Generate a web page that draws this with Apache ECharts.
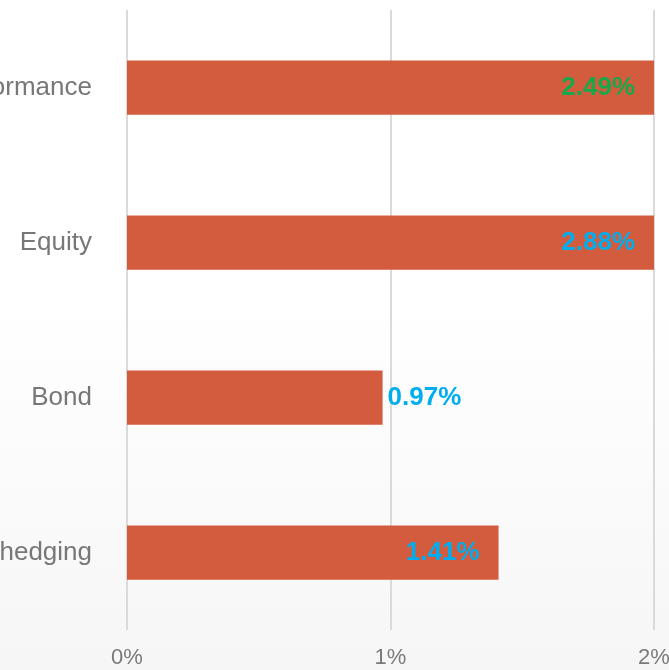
<!DOCTYPE html>
<html>
<head>
<meta charset="utf-8">
<script src="https://cdn.jsdelivr.net/npm/echarts@6/dist/echarts.min.js"></script>
<style>
  html, body { margin: 0; padding: 0; overflow: hidden; background: #ffffff; }
  #chart { width: 669px; height: 670px; }
</style>
</head>
<body>
<div id="chart"></div>
<script>
// Return contribution by component, in percent
const categories = ['Performance', 'Equity', 'Bond', 'Currency hedging'];
const values = [2.49, 2.88, 0.97, 1.41];
const labelColors = ['#18a84a', '#00aeef', '#00aeef', '#00aeef'];
const labelPositions = ['insideRight', 'insideRight', 'right', 'insideRight'];
const xTicks = { min: 0, max: 2, interval: 1 };

const FONT = '"Liberation Sans", Arial, sans-serif';

const chart = echarts.init(document.getElementById('chart'), null, { renderer: 'canvas' });

const seriesData = values.map((v, i) => ({
  value: v,
  label: {
    color: labelColors[i],
    position: labelPositions[i],
    distance: labelPositions[i] === 'right' ? 5 : 19
  }
}));

chart.setOption({
  backgroundColor: {
    type: 'linear', x: 0, y: 0, x2: 0, y2: 1,
    colorStops: [
      { offset: 0, color: '#ffffff' },
      { offset: 0.45, color: '#ffffff' },
      { offset: 1, color: '#f6f6f6' }
    ]
  },
  animation: false,
  grid: {
    left: 127, right: 15, top: 10, bottom: 40,
    containLabel: false,
    outerBoundsMode: 'none'
  },
  xAxis: {
    type: 'value',
    min: xTicks.min,
    max: xTicks.max,
    interval: xTicks.interval,
    axisLine: { show: false },
    axisTick: { show: false },
    splitLine: { show: true, lineStyle: { color: '#dadada', width: 2 } },
    axisLabel: {
      formatter: '{value}%',
      color: '#7a7a7a',
      fontSize: 22,
      fontFamily: FONT,
      margin: 17,
      hideOverlap: false
    }
  },
  yAxis: {
    type: 'category',
    data: categories,
    inverse: true,
    axisLine: { show: false },
    axisTick: { show: false },
    splitLine: { show: false },
    axisLabel: {
      color: '#777777',
      fontSize: 26,
      fontFamily: FONT,
      margin: 35
    }
  },
  series: [{
    type: 'bar',
    data: seriesData,
    barWidth: '35%',
    clip: true,
    itemStyle: { color: '#d35b3e' },
    label: {
      show: true,
      fontSize: 26,
      fontWeight: 'bold',
      fontFamily: FONT,
      formatter: p => p.value.toFixed(2) + '%'
    }
  }]
});
</script>
</body>
</html>
